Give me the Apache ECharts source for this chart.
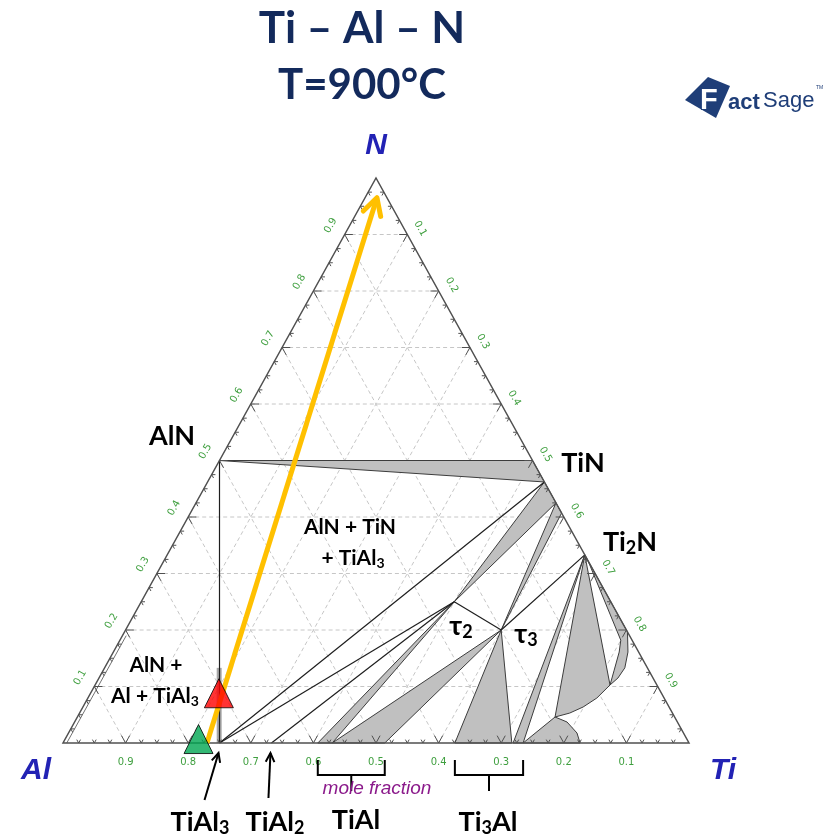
<!DOCTYPE html>
<html><head><meta charset="utf-8">
<script src="https://cdn.jsdelivr.net/npm/echarts@6/dist/echarts.min.js"></script>
<style>html,body{margin:0;padding:0;background:#fff}#c{width:823px;height:837px}</style>
</head><body><div id="c"></div><script>
// ---- data: compositions as [xTi, xN] (xAl = 1 - xTi - xN) ----
const gridValues = [0.1,0.2,0.3,0.4,0.5,0.6,0.7,0.8,0.9];
const tickLabels = ['0.1','0.2','0.3','0.4','0.5','0.6','0.7','0.8','0.9'];
const minorTickStep = 0.025;

const AlN = [0, 0.5];
const TiN_top = [0.5, 0.5];
const TiN_a = [0.538, 0.462];
const TiN_b = [0.575, 0.425];
const TiN_c = [0.593, 0.407];
const Ti2N = [0.667, 0.333];
const tau2 = [0.5, 0.25];
const tau3 = [0.6, 0.2];
const TiAl3 = [0.25, 0];
const TiAl2 = [0.333, 0];
const TiAl_range = [[0.407, 0], [0.430, 0], [0.514, 0]];
const Ti3Al_range = [[0.626, 0], [0.717, 0], [0.719, 0], [0.735, 0]];
const alphaTi_end = [0.826, 0];
const cornerA = [0.763, 0.046];
const cornerB = [0.8225, 0.1027];
const domeCurve = [[0.7865, 0.0372], [0.8122, 0.0177]];
const bigCurve = [[0.783, 0.053], [0.799, 0.0637], [0.813, 0.0796]];
const sliverOuter = [[0.8035, 0.1965], [0.822, 0.161], [0.831, 0.133], [0.829, 0.115]];
const sliverInner = [[0.816, 0.129], [0.808, 0.161], [0.800, 0.182], [0.684, 0.315]];
const TiAl3Strip = [[0.2455, 0], [0.2535, 0], [0.187, 0.133], [0.179, 0.133]];
const leftEdgeBand = [[0.006, 0], [0.006, 0.19]];

const twoPhaseRegions = [
  [AlN, TiN_top, TiN_a],
  [TiN_a, TiN_b, tau2],
  [TiN_b, TiN_c, tau3],
  [TiAl_range[0], TiAl_range[1], tau2],
  [TiAl_range[1], TiAl_range[2], tau3],
  [Ti3Al_range[0], Ti3Al_range[1], tau3],
  [Ti3Al_range[2], Ti3Al_range[3], Ti2N],
  [Ti3Al_range[3], cornerA].concat(domeCurve, [alphaTi_end]),
  [Ti2N, cornerA].concat(bigCurve, [cornerB]),
  [Ti2N].concat(sliverOuter, [cornerB], sliverInner)
];
const tieLines = [
  [AlN, TiAl3], [TiAl3, TiN_a], [TiAl3, tau2], [TiAl2, tau2], [tau2, tau3], [tau3, Ti2N]
];
const pathLine = [[0.23, 0], [0.019, 0.965]];
const redPoint = [0.205, 0.088];
const greenPoint = [0.213, 0.007];
const pointerTargets = [TiAl3, TiAl2];
const bracketRanges = [[TiAl_range[0][0], TiAl_range[2][0]], [Ti3Al_range[0][0], Ti3Al_range[3][0]]];

// ---- drawing ----
const toXY = p => [p[0] + p[1] / 2, p[1]];
const chart = echarts.init(document.getElementById('c'));

function layer(z, build) {
  return {
    type: 'custom', coordinateSystem: 'cartesian2d', silent: true, z: z, clip: false,
    data: [[0.5, 0.5]],
    renderItem: (params, api) => ({type: 'group', children: build(p => api.coord(toXY(p)))})
  };
}
function seg(c, a, b, style) {
  return {type: 'line', shape: {x1: c(a)[0], y1: c(a)[1], x2: c(b)[0], y2: c(b)[1]}, style: style};
}

const gridStyle = {stroke: '#c6c6c6', lineWidth: 1, lineDash: [4, 3]};
const gridLayer = layer(1, c => {
  const out = [];
  gridValues.forEach(v => {
    out.push(seg(c, [0, v], [1 - v, v], gridStyle));
    out.push(seg(c, [v, 0], [v, 1 - v], gridStyle));
    out.push(seg(c, [1 - v, 0], [0, 1 - v], gridStyle));
  });
  return out;
});

const regionLayer = layer(2, c => {
  const out = [{type: 'polygon', shape: {points: TiAl3Strip.map(c)}, style: {fill: '#a8a8a8'}}];
  twoPhaseRegions.forEach(poly => out.push({
    type: 'polygon', shape: {points: poly.map(c)},
    style: {fill: '#c0c0c0', stroke: '#3c3c3c', lineWidth: 1, lineJoin: 'round'}
  }));
  return out;
});

const lineLayer = layer(3, c => {
  const out = tieLines.map(l => seg(c, l[0], l[1], {stroke: '#1e1e1e', lineWidth: 1.2}));
  out.push(seg(c, leftEdgeBand[0], leftEdgeBand[1], {stroke: '#707070', lineWidth: 1}));
  return out;
});

const frameLayer = layer(4, c => {
  const out = [{type: 'polygon', shape: {points: [[0, 0], [1, 0], [0, 1]].map(c)},
    style: {fill: null, stroke: '#505050', lineWidth: 1.5}}];
  const tickStyle = {stroke: '#505050', lineWidth: 1, fill: null};
  const nSteps = Math.round(1 / minorTickStep);
  for (let k = 1; k < nSteps; k++) {
    const v = k * minorTickStep;
    const major = Math.abs(v * 10 - Math.round(v * 10)) < 1e-6;
    const d = major ? 0.013 : 0.006;
    const t = 1 - v; // bottom: Al fraction = v
    out.push({type: 'polyline', shape: {points: [[t, d], [t, 0], [t - d, d]].map(c)}, style: tickStyle});
    out.push({type: 'polyline', shape: {points: [[d, v], [0, v], [d, v - d]].map(c)}, style: tickStyle});
    out.push({type: 'polyline', shape: {points: [[v - d, 1 - v], [v, 1 - v], [v, 1 - v - d]].map(c)}, style: tickStyle});
  }
  const lab = {fill: '#3f9f3f', font: '10px "DejaVu Sans"', align: 'center', verticalAlign: 'middle'};
  gridValues.forEach((v, i) => {
    const pb = c([1 - v, 0]);
    out.push({type: 'text', x: pb[0], y: pb[1] + 19, style: Object.assign({text: tickLabels[i]}, lab)});
    const pl = c([0, v]);
    out.push({type: 'text', x: pl[0] - 14, y: pl[1] - 9, rotation: Math.PI / 3, style: Object.assign({text: tickLabels[i]}, lab)});
    const pr = c([v, 1 - v]);
    out.push({type: 'text', x: pr[0] + 13, y: pr[1] - 6, rotation: -Math.PI / 3, style: Object.assign({text: tickLabels[i]}, lab)});
  });
  return out;
});

function arrowHead(a, b, len, ang) {
  const dx = b[0] - a[0], dy = b[1] - a[1];
  const L = Math.hypot(dx, dy), ux = dx / L, uy = dy / L;
  const rot = (x, y, t) => [x * Math.cos(t) - y * Math.sin(t), x * Math.sin(t) + y * Math.cos(t)];
  const r1 = rot(-ux, -uy, ang), r2 = rot(-ux, -uy, -ang);
  return [[b[0] + r1[0] * len, b[1] + r1[1] * len], b, [b[0] + r2[0] * len, b[1] + r2[1] * len]];
}

const annotLayer = layer(5, c => {
  const out = [];
  const a = c(pathLine[0]), b = c(pathLine[1]);
  out.push({type: 'line', shape: {x1: a[0], y1: a[1], x2: b[0], y2: b[1]}, style: {stroke: '#ffc000', lineWidth: 5}});
  out.push({type: 'polyline', shape: {points: arrowHead(a, b, 19, 0.5)}, style: {stroke: '#ffc000', lineWidth: 5, lineCap: 'round', lineJoin: 'round', fill: null}});
  // pointers
  const tails = [[-15, 57], [-3, 55]];
  pointerTargets.forEach((p, i) => {
    const q = c(p);
    const tip = [q[0] - 1, q[1] + 10], tail = [q[0] + tails[i][0], q[1] + tails[i][1]];
    out.push({type: 'line', shape: {x1: tail[0], y1: tail[1], x2: tip[0], y2: tip[1]}, style: {stroke: '#000', lineWidth: 2}});
    out.push({type: 'polyline', shape: {points: arrowHead(tail, tip, 10, 0.45)}, style: {stroke: '#000', lineWidth: 2, fill: null}});
  });
  // brackets
  bracketRanges.forEach(r => {
    const p1 = c([r[0], 0]), p2 = c([r[1], 0]);
    const m = (p1[0] + p2[0]) / 2;
    out.push({type: 'polyline', shape: {points: [[p1[0], p1[1] + 17], [p1[0], p1[1] + 32], [p2[0], p2[1] + 32], [p2[0], p2[1] + 17]]}, style: {stroke: '#000', lineWidth: 2, fill: null}});
    out.push({type: 'line', shape: {x1: m, y1: p1[1] + 32, x2: m, y2: p1[1] + 48}, style: {stroke: '#000', lineWidth: 2}});
  });
  return out;
});

function lbl(x, y, text, size) {
  return {
    type: 'text', x: x, y: y, z: 100,
    style: {
      text: text, fill: '#000', align: 'center', verticalAlign: 'middle',
      font: 'bold ' + size + 'px Lato',
      rich: {
        a: {fontFamily: 'Lato', fontWeight: 'bold', fontSize: size, lineHeight: size + 4, fill: '#000'},
        s: {fontFamily: 'Lato', fontWeight: 'bold', verticalAlign: 'bottom', fontSize: Math.round(size * 0.68), lineHeight: Math.round(size * 0.4), fill: '#000'}
      }
    }
  };
}
const vtx = {fill: '#2222b4', font: 'italic bold 30px "Liberation Sans"', align: 'center', verticalAlign: 'middle'};
const navy = '#1f3e78';

const graphic = [
  {type: 'text', x: 362, y: 29, style: {text: 'Ti – Al – N', fill: '#132a5c', font: 'bold 44px Lato', align: 'center', verticalAlign: 'middle'}},
  {type: 'text', x: 362, y: 85, style: {text: 'T=900°C', fill: '#132a5c', font: 'bold 42px Lato', align: 'center', verticalAlign: 'middle'}},
  // logo
  {type: 'polygon', shape: {points: [[685, 100], [708, 77], [730, 86], [716, 118]]}, style: {fill: navy}},
  {type: 'text', x: 700, y: 101, style: {text: 'F', fill: '#fff', stroke: navy, lineWidth: 2, font: 'bold 29px "Liberation Sans"', align: 'left', verticalAlign: 'middle'}},
  {type: 'text', x: 728, y: 103, style: {text: 'act', fill: navy, font: 'bold 22px "Liberation Sans"', align: 'left', verticalAlign: 'middle'}},
  {type: 'text', x: 763, y: 101, style: {text: 'Sage', fill: navy, font: '22px "Liberation Sans"', align: 'left', verticalAlign: 'middle'}},
  {type: 'text', x: 816, y: 88, style: {text: 'TM', fill: navy, font: '5px "Liberation Sans"', align: 'left', verticalAlign: 'middle'}},
  // vertices
  {type: 'text', x: 376, y: 146, style: Object.assign({text: 'N'}, vtx)},
  {type: 'text', x: 36, y: 771, style: Object.assign({text: 'Al'}, vtx)},
  {type: 'text', x: 723, y: 771, style: Object.assign({text: 'Ti'}, vtx)},
  // phase labels
  lbl(172, 436, '{a|AlN}', 27),
  lbl(583, 463, '{a|TiN}', 27),
  lbl(630, 542, '{a|Ti}{s|2}{a|N}', 27),
  lbl(350, 527, '{a|AlN + TiN}', 21),
  lbl(353, 558, '{a|+ TiAl}{s|3}', 21),
  lbl(156, 665, '{a|AlN +}', 21),
  lbl(155, 696, '{a|Al + TiAl}{s|3}', 21),
  lbl(461, 626, '{a|τ}{s|2}', 27),
  lbl(526, 634, '{a|τ}{s|3}', 27),
  lbl(200, 822, '{a|TiAl}{s|3}', 27),
  lbl(275, 822, '{a|TiAl}{s|2}', 27),
  lbl(356, 820, '{a|TiAl}', 27),
  lbl(488, 822, '{a|Ti}{s|3}{a|Al}', 27),
  {type: 'text', x: 377, y: 789, z: 100, style: {text: 'mole fraction', fill: '#8b1a8b', font: 'italic 19px "Liberation Sans"', align: 'center', verticalAlign: 'middle'}}
];

chart.setOption({
  animation: false,
  grid: {left: 63, top: 178, width: 626, height: 565},
  xAxis: {type: 'value', min: 0, max: 1, show: false},
  yAxis: {type: 'value', min: 0, max: 1, show: false},
  series: [
    gridLayer, regionLayer, lineLayer, frameLayer, annotLayer,
    {type: 'scatter', z: 10, silent: true, symbol: 'triangle', symbolSize: [29, 29],
     data: [{value: toXY(redPoint), itemStyle: {color: '#ff0000'}}, {value: toXY(greenPoint), itemStyle: {color: '#00a651'}}],
     itemStyle: {borderColor: '#000', borderWidth: 1}}
  ],
  graphic: graphic
});
</script></body></html>
